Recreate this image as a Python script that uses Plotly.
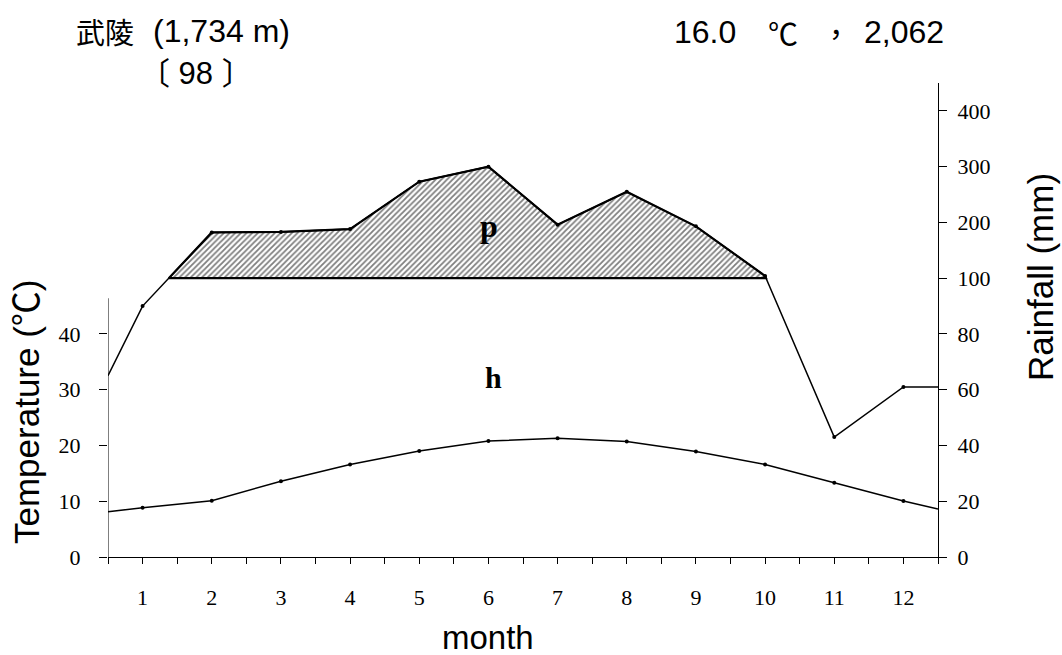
import plotly.graph_objects as go

# ---------------- data ----------------
months = list(range(1, 13))
month_labels = [str(m) for m in months]
temp_c = [8.85, 10.1, 13.6, 16.6, 19.0, 20.8, 21.3, 20.7, 18.9, 16.6, 13.3, 10.05]
temp_edge_values = [8.1, 8.6]          # line values drawn at the left/right plot edges
rain_mm = [90, 182, 183, 188, 273, 300, 196, 255, 193, 104, 43, 61]
rain_edge_values = [65, 61]            # line values drawn at the left/right plot edges
temp_ticks = [0, 10, 20, 30, 40]
rain_ticks = [0, 20, 40, 60, 80, 100, 200, 300, 400]
station_name = "武陵"
station_alt = "(1,734 m)"
years_label = "〔 98 〕"
mean_temp_label = "16.0"
total_rain_label = "2,062"

# ---------------- Walter-Lieth style scale ----------------
# 10 degC <-> 20 mm below 100 mm, compressed 1:5 above 100 mm
def rain_axis(r):
    return r / 2.0 if r <= 100 else 50.0 + (r - 100) / 10.0

X0, X1 = 0.5, 12.5
Y_TOP = 85
BASE = rain_axis(100)

tx = [X0] + months + [X1]
ty = [temp_edge_values[0]] + temp_c + [temp_edge_values[1]]
rx = [X0] + months + [X1]
ry = [rain_axis(rain_edge_values[0])] + [rain_axis(v) for v in rain_mm] + [rain_axis(rain_edge_values[1])]

# humid (>100 mm) polygon: clip the polyline at the 100 mm level
poly_x, poly_y = [], []
for i in range(len(rx) - 1):
    xa, ya, xb, yb = rx[i], ry[i], rx[i + 1], ry[i + 1]
    if ya >= BASE:
        poly_x.append(xa); poly_y.append(ya)
    if (ya - BASE) * (yb - BASE) < 0:
        f = (BASE - ya) / (yb - ya)
        poly_x.append(xa + f * (xb - xa)); poly_y.append(BASE)
if ry[-1] >= BASE:
    poly_x.append(rx[-1]); poly_y.append(ry[-1])
poly_x.append(poly_x[0]); poly_y.append(poly_y[0])

fig = go.Figure()

fig.add_trace(go.Scatter(
    x=poly_x, y=poly_y, mode="lines", fill="toself",
    fillcolor="white",
    fillpattern=dict(shape="/", fgcolor="black", bgcolor="white", size=4, solidity=0.45),
    line=dict(color="black", width=2.2), yaxis="y2", hoverinfo="skip"))

fig.add_trace(go.Scatter(
    x=rx, y=ry, mode="lines", line=dict(color="black", width=1.5),
    yaxis="y2", hoverinfo="skip"))
fig.add_trace(go.Scatter(
    x=months, y=[rain_axis(v) for v in rain_mm], mode="markers",
    marker=dict(color="black", size=4), yaxis="y2"))

fig.add_trace(go.Scatter(
    x=tx, y=ty, mode="lines", line=dict(color="black", width=1.5), hoverinfo="skip"))
fig.add_trace(go.Scatter(
    x=months, y=temp_c, mode="markers", marker=dict(color="black", size=4)))

half_ticks = [X0 + 0.5 * k for k in range(25)]
half_text = [str(int(v)) if float(v).is_integer() else "" for v in half_ticks]

tick_font = dict(family="Liberation Serif, Times New Roman, serif", size=22, color="black")
title_font = "Liberation Sans, Arial, Noto Sans CJK TC, sans-serif"
cjk_font = "Noto Sans CJK TC, sans-serif"

fig.update_layout(
    width=1062, height=655,
    margin=dict(l=108, r=124, t=83, b=98),
    paper_bgcolor="white", plot_bgcolor="white",
    showlegend=False,
    xaxis=dict(range=[X0, X1], tickvals=half_ticks, ticktext=half_text,
               ticks="outside", ticklen=6, tickcolor="black", tickwidth=1,
               showline=True, linecolor="black", linewidth=1,
               showgrid=False, zeroline=False, tickfont=tick_font,
               ticklabelstandoff=15),
    yaxis=dict(range=[0, Y_TOP], tickvals=temp_ticks,
               ticks="outside", ticklen=8, tickcolor="black", tickwidth=1,
               showline=False, showgrid=False, zeroline=False,
               tickfont=tick_font, ticklabelstandoff=14),
    yaxis2=dict(range=[0, Y_TOP], overlaying="y", side="right", anchor="x",
                tickvals=[rain_axis(v) for v in rain_ticks],
                ticktext=[str(v) for v in rain_ticks],
                ticks="outside", ticklen=8, tickcolor="black", tickwidth=1,
                showline=True, linecolor="black", linewidth=1,
                showgrid=False, zeroline=False, tickfont=tick_font,
                ticklabelstandoff=6),
)

# left (temperature) axis line only up to ~46 degC
fig.add_shape(type="line", xref="x", yref="y", x0=X0, x1=X0, y0=0, y1=46.4,
              line=dict(color="black", width=1))

def px(xp):
    return (xp - 108) / 830.0

def py(yp):
    return (557 - yp) / 474.0

def note(text, x, y, size, family=title_font, xanchor="center", angle=0, **kw):
    fig.add_annotation(text=text, x=x, y=y, xref="paper", yref="paper",
                       xanchor=xanchor, yanchor="middle", showarrow=False,
                       textangle=angle, font=dict(family=family, size=size, color="black"), **kw)

note(station_name, px(74), py(31), 29, family=cjk_font, xanchor="left")
note(station_alt, px(151), py(31), 32, xanchor="left")
note(years_label, px(196), py(74), 31)
note(mean_temp_label, px(672), py(32), 32, xanchor="left")
note("℃", px(783), py(32), 30, family=cjk_font)
note("，", px(836), py(32), 30, family=cjk_font)
note(total_rain_label, px(946), py(32), 32, xanchor="right")

note("Temperature (℃)", px(26), py(412), 35, angle=-90)
note("Rainfall (mm)", px(1040), py(277), 35, angle=-90)
note("month", px(488), py(637), 33)

serif_bold = "Liberation Serif, Times New Roman, serif"
note("<b>p</b>", px(489), py(226), 32, family=serif_bold)
note("<b>h</b>", px(493), py(377), 30, family=serif_bold)

fig.write_html("out.html", config={"displayModeBar": False},
               post_script="document.body.style.margin='0';")
